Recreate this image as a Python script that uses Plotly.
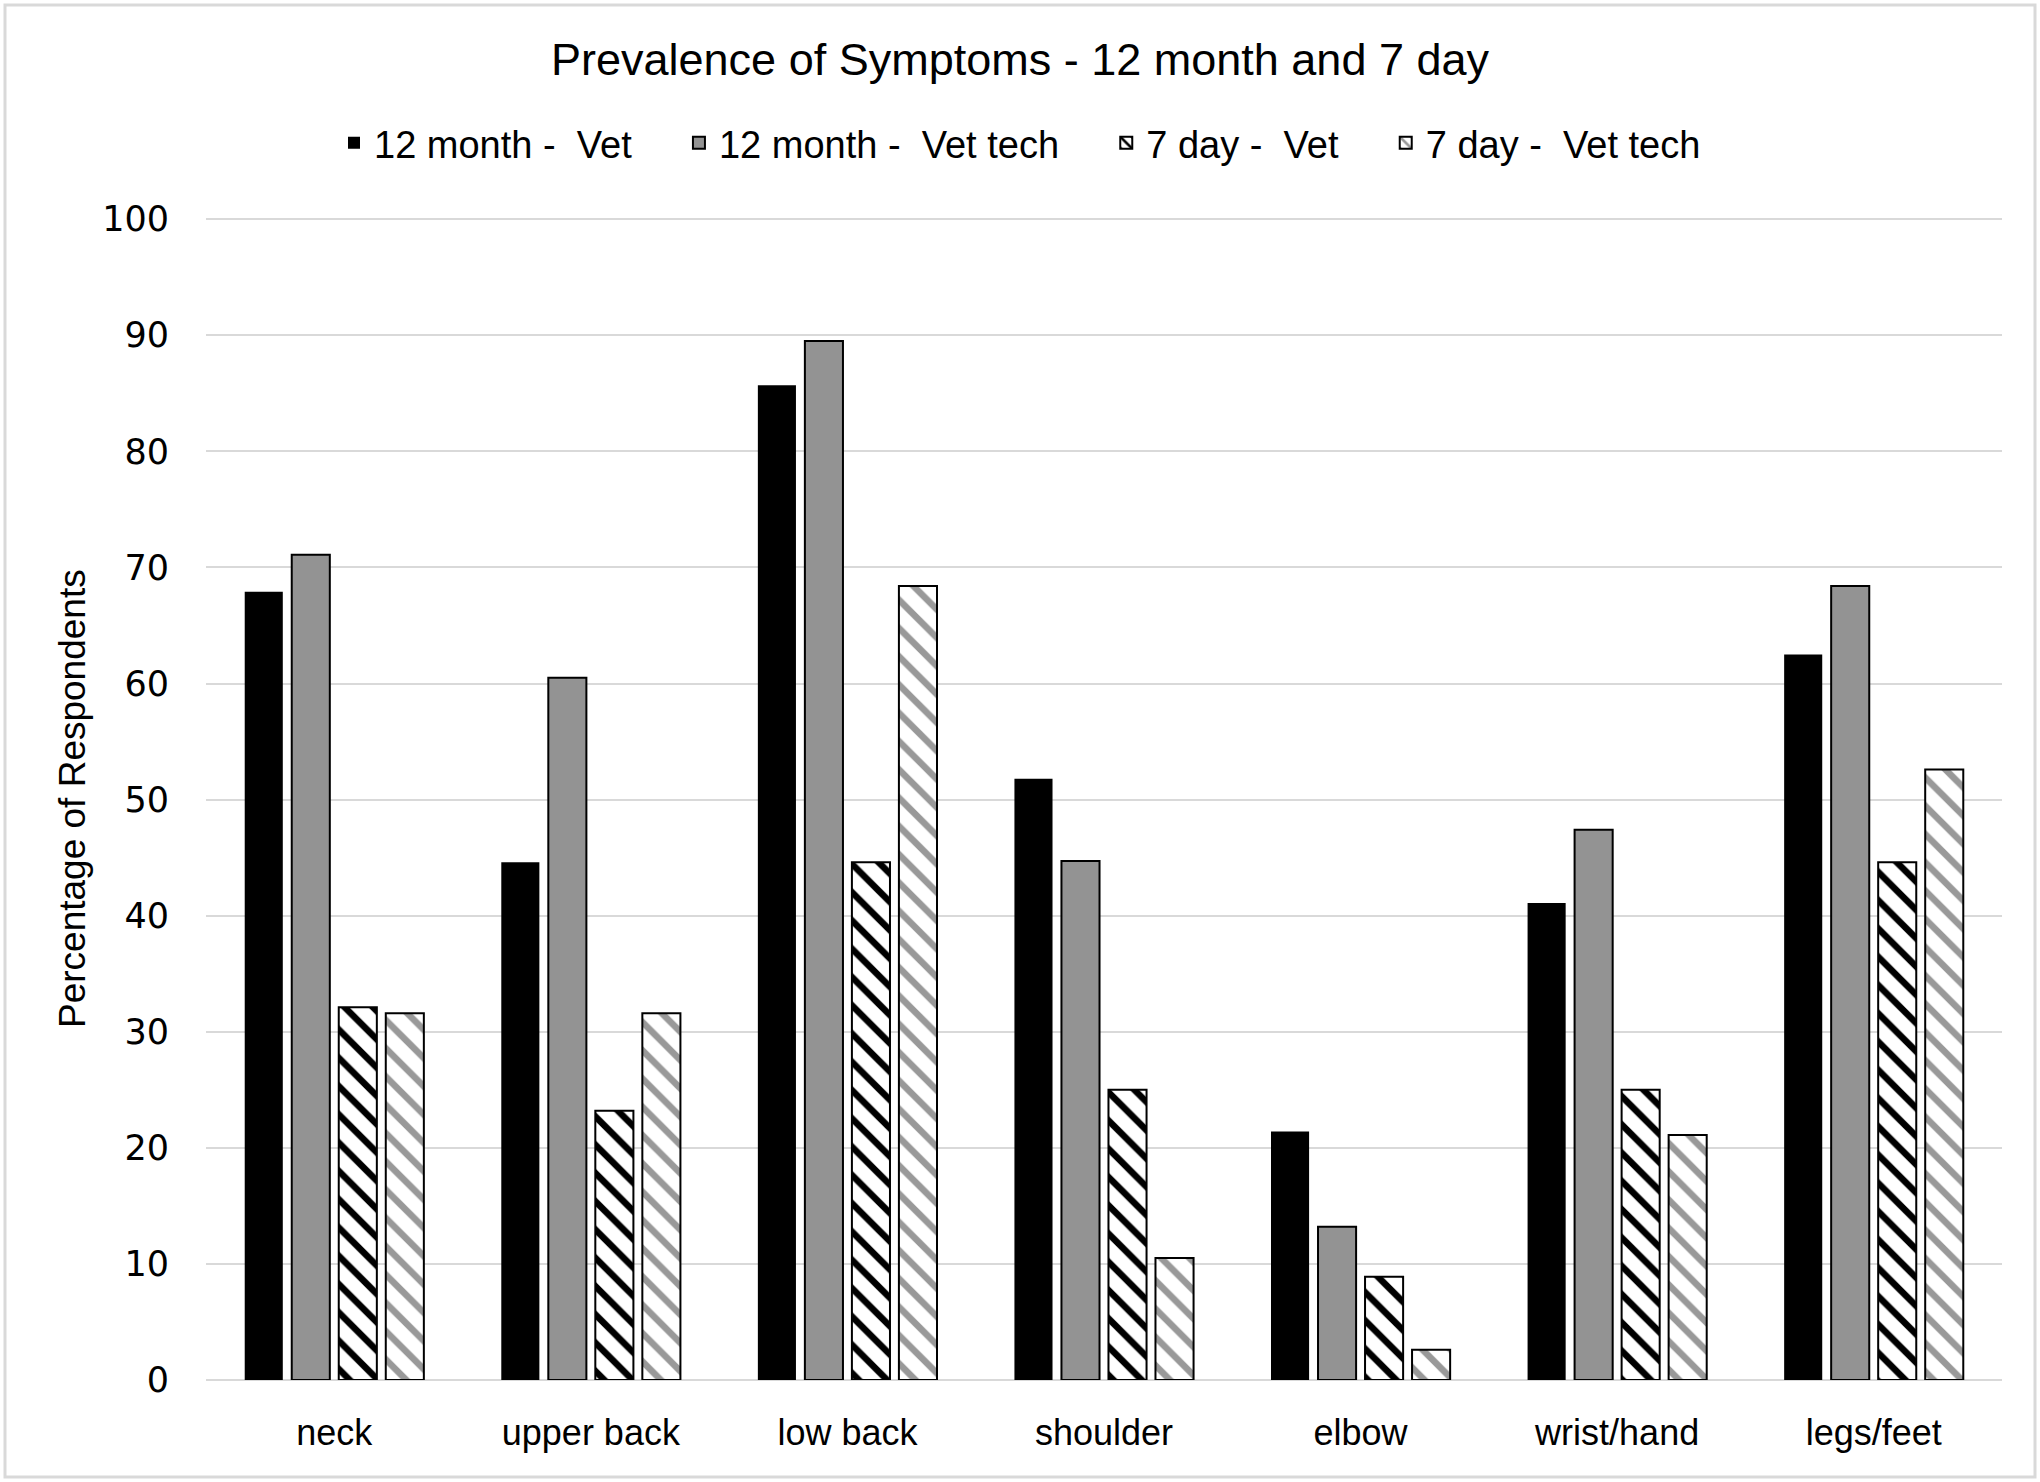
import plotly.graph_objects as go

# body regions on the x axis
regions = ["neck", "upper back", "low back", "shoulder", "elbow", "wrist/hand", "legs/feet"]

# percentage of respondents reporting symptoms
month12_vet = [67.9, 44.6, 85.7, 51.8, 21.4, 41.1, 62.5]
month12_tech = [71.1, 60.5, 89.5, 44.7, 13.2, 47.4, 68.4]
day7_vet = [32.1, 23.2, 44.6, 25.0, 8.9, 25.0, 44.6]
day7_tech = [31.6, 31.6, 68.4, 10.5, 2.6, 21.1, 52.6]

y_ticks = list(range(0, 101, 10))

W, H = 2040, 1482
L, R, T, B = 206, 38, 218, 102
pw, ph = W - L - R, H - T - B

pad = "    "  # extra room between legend entries

fig = go.Figure()
fig.add_trace(go.Bar(
    x=regions, y=month12_vet, name="12 month -  Vet" + pad,
    marker=dict(color="#000000", line=dict(width=0)),
))
fig.add_trace(go.Bar(
    x=regions, y=month12_tech, name="12 month -  Vet tech" + pad,
    marker=dict(color="#939393", line=dict(color="#000000", width=2)),
))
fig.add_trace(go.Bar(
    x=regions, y=day7_vet, name="7 day -  Vet" + pad,
    marker=dict(
        color="white", line=dict(color="#000000", width=2),
        pattern=dict(shape="\\", fgcolor="#000000", bgcolor="white",
                     fgopacity=1, size=20, solidity=0.33),
    ),
))
fig.add_trace(go.Bar(
    x=regions, y=day7_tech, name="7 day -  Vet tech",
    marker=dict(
        color="white", line=dict(color="#000000", width=2),
        pattern=dict(shape="\\", fgcolor="#999999", bgcolor="white",
                     fgopacity=1, size=20, solidity=0.33),
    ),
))

# light outer frame around the whole chart
fig.add_shape(
    type="rect", xref="paper", yref="paper",
    x0=(5 - L) / pw, x1=(2035 - L) / pw,
    y0=(T + ph - 1477) / ph, y1=(T + ph - 5) / ph,
    line=dict(color="#d9d9d9", width=3), fillcolor="rgba(0,0,0,0)",
    layer="below",
)

fig.add_annotation(
    text="Percentage of Respondents", textangle=-90,
    xref="paper", yref="paper", x=(72 - L) / pw, y=0.5,
    xanchor="center", yanchor="middle", showarrow=False,
    font=dict(family="Liberation Sans", size=37, color="#000000"),
)

fig.update_layout(
    width=W, height=H,
    margin=dict(l=L, r=R, t=T, b=B),
    paper_bgcolor="white", plot_bgcolor="white",
    barmode="group", bargap=0.267, bargroupgap=0.19,
    title=dict(
        text="Prevalence of Symptoms - 12 month and 7 day",
        x=0.5, xref="container", xanchor="center",
        y=1 - 59 / H, yref="container", yanchor="middle",
        font=dict(family="Liberation Sans", size=45, color="#000000"),
    ),
    legend=dict(
        orientation="h", x=0.5, xref="container", xanchor="center",
        y=1 - 143 / H, yref="container", yanchor="middle",
        font=dict(family="Liberation Sans", size=38, color="#000000"),
        itemwidth=30, traceorder="normal",
    ),
    font=dict(family="Liberation Sans", color="#000000"),
)

fig.update_xaxes(
    showgrid=False, showline=False, ticks="",
    tickfont=dict(family="Liberation Sans", size=36, color="#000000"),
    ticklabelstandoff=28,
)
fig.update_yaxes(
    range=[0, 100.1], tickvals=y_ticks,
    showgrid=True, gridcolor="#d9d9d9", gridwidth=2,
    zeroline=True, zerolinecolor="#d9d9d9", zerolinewidth=2,
    showline=False, ticks="",
    tickfont=dict(family="DejaVu Sans", size=35, color="#000000"),
    ticklabelstandoff=36,
)

# drop the browser's default body margin so the figure sits at the page origin
fig.write_html(
    "out.html",
    config={"displayModeBar": False},
    post_script="document.body.style.margin='0';",
)
